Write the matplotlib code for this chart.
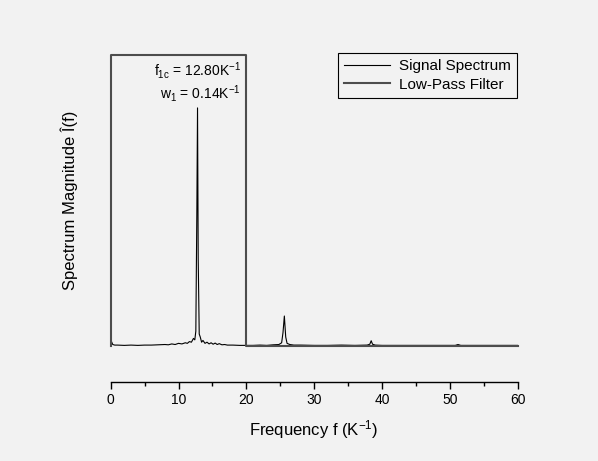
import matplotlib
matplotlib.use("Agg")
from matplotlib import pyplot as plt
from matplotlib.ticker import MultipleLocator

plt.rcParams['font.family'] = ['Liberation Sans', 'DejaVu Sans']
plt.rcParams['mathtext.fontset'] = 'custom'
plt.rcParams['mathtext.rm'] = 'Liberation Sans'
plt.rcParams['mathtext.it'] = 'Liberation Sans'

# Signal spectrum (normalised so the filter passband height is 1)
freq = [0, 0.1, 0.3, 0.6, 1, 2, 3, 4, 5, 6, 7, 8, 8.5, 9, 9.5, 10, 10.5,
        11, 11.3, 11.6, 11.9, 12.2, 12.4, 12.55, 12.7, 12.8, 12.9, 13.05,
        13.2, 13.4, 13.6, 13.9, 14.2, 14.5, 14.8, 15.1, 15.4, 15.7, 16.0,
        16.4, 16.8, 17.2, 18, 19, 20, 21, 22, 23, 24, 24.8, 25.2, 25.4,
        25.6, 25.8, 26.0, 26.4, 27, 28, 30, 32, 34, 36, 37.8, 38.2, 38.4,
        38.6, 39, 40, 42, 45, 48, 50.8, 51.2, 51.6, 54, 57, 60]
magnitude = [0.04, 0.015, 0.004, 0.002, 0.002, 0.001, 0.002, 0.001, 0.002,
             0.002, 0.003, 0.004, 0.003, 0.006, 0.004, 0.008, 0.006, 0.010,
             0.008, 0.014, 0.012, 0.025, 0.020, 0.050, 0.460, 0.818, 0.300,
             0.040, 0.030, 0.012, 0.018, 0.008, 0.012, 0.006, 0.010, 0.005,
             0.009, 0.004, 0.007, 0.003, 0.004, 0.002, 0.002, 0.001, 0.001,
             0.001, 0.002, 0.001, 0.003, 0.004, 0.010, 0.045, 0.102, 0.030,
             0.008, 0.004, 0.002, 0.002, 0.001, 0.001, 0.002, 0.001, 0.002,
             0.005, 0.017, 0.005, 0.002, 0.001, 0.001, 0.001, 0.001, 0.001,
             0.004, 0.001, 0.001, 0.001, 0.001]

# Ideal low-pass filter with cutoff at 20 K^-1
filter_freq = [0, 0, 20, 20, 60]
filter_gain = [0, 1, 1, 0, 0]

x_ticks = [0, 10, 20, 30, 40, 50, 60]

W, H = 598, 461
bg = '#f2f2f2'
fig = plt.figure(figsize=(W / 100, H / 100), dpi=100, facecolor=bg)
ax = fig.add_axes([110.7 / W, 1 - 382.3 / H, 407 / W, 327.3 / H],
                  facecolor=bg)

ax.plot(freq, magnitude, color='black', lw=0.8, label='Signal Spectrum')
ax.plot(filter_freq, filter_gain, color='#4d4d4d', lw=1.5,
        label='Low-Pass Filter', clip_on=False)

ax.set_xlim(0, 60)
ax.set_ylim(-0.126, 1.0)
ax.set_xticks(x_ticks)
ax.xaxis.set_minor_locator(MultipleLocator(5))
ax.set_yticks([])
for side in ['left', 'right', 'top']:
    ax.spines[side].set_visible(False)
ax.spines['bottom'].set_linewidth(1.0)
ax.tick_params(axis='x', which='major', length=5, width=1.0,
               labelsize=10, pad=3)
ax.tick_params(axis='x', which='minor', length=3, width=1.0)

ax.set_xlabel('Frequency f (K$^{-1}$)', fontsize=12, labelpad=8)
ax.set_ylabel('Spectrum Magnitude Î(f)', fontsize=12)
ax.yaxis.set_label_coords(-0.080, 0.555)

# cutoff frequency and width of the filter
fig.text(241 / W, 1 - 70 / H, r'f$_{1c}$ = 12.80K$^{-1}$',
         fontsize=10, ha='right', va='center')
fig.text(241 / W, 1 - 93 / H, r'w$_{1}$ = 0.14K$^{-1}$',
         fontsize=10, ha='right', va='center')

leg = ax.legend(loc='upper right', bbox_to_anchor=(517 / W, 1 - 53 / H),
                bbox_transform=fig.transFigure, fontsize=11, frameon=True,
                fancybox=False, handlelength=3.0, borderpad=0.4,
                labelspacing=0.3, handletextpad=0.6, borderaxespad=0)
leg.get_frame().set_edgecolor('black')
leg.get_frame().set_linewidth(0.8)
leg.get_frame().set_facecolor(bg)
leg.get_frame().set_alpha(1)

fig.savefig('out.png', dpi=100, facecolor=bg)
